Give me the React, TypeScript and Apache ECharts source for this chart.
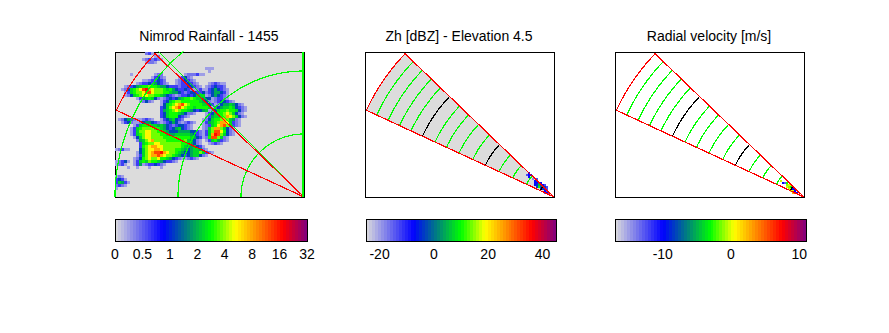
import React, { useEffect, useRef } from "react";
import * as echarts from "echarts";

const titles = ["Nimrod Rainfall - 1455", "Zh [dBZ] - Elevation 4.5", "Radial velocity [m/s]"];
const titleCentres = [209, 459, 709];
const rainTickLabels = ["0", "0.5", "1", "2", "4", "8", "16", "32"];
const rainTicks = [0, 1, 2, 3, 4, 5, 6, 7];
const zhTicks = [-20, 0, 20, 40];
const velTicks = [-10, 0, 10];

const ringKm = [50, 100, 150];
const heightGreenKm = [24, 36, 48, 71, 83, 94, 104, 125, 135, 145, 155];
const heightBlackKm = [12, 60, 115];
const sectorAz = [294.8, 313.9];
const sectorRangeKm = 164;
const greenRadialAz = 315;

// mm/h for each letter of the rain map
const rainLevels: Record<string, number> = { a: 0.25, b: 0.42, c: 0.62, d: 1.2, e: 1.9, f: 2.4, g: 3.0, h: 3.8, i: 5.2, j: 8, k: 12, l: 17 };
const zhLevels: Record<string, number> = { a: -18, b: -13, c: -8, d: -4, e: 0, f: 5, g: 10 };
const velLevels: Record<string, number> = { a: -13, c: -10, g: -3, h: -1, i: 0, j: 3, k: 6 };

// "column:letters" runs, one string for each row of the map, top row first
const rainRows = [
  "10:bca",
  "13:ab",
  "9:abcbcb 15:a",
  "10:abba",
  "",
  "30:aaa",
  "31:a",
  "5:a 13:abb 23:abb 26:bcaa",
  "12:acdba 21:acdba",
  "9:aabccdcb 20:abcdcba",
  "7:abccdcedcba 20:abccdcba 31:abcbaa",
  "3:abcdefgghggfeedcccbccddcba 30:abcdccb",
  "2:abdfghikljihhhgfgedccdcbcba 26:abca 30:acdedcba",
  "3:acfghhikkihhhggfeedcbcddccdeecb 30:bcdeedca",
  "3:abdfghiihhggfedcba 20:abccdcdfffdcca 30:abdedcba",
  "7:acefgfdba 15:abcdcdefgghgffeddcba 32:abcca 36:ba",
  "8:abdba 15:acdfghhggggggfedba 32:abcddcba",
  "15:adfghijkihggggffdca 33:abdeefedba",
  "15:cdfhijkihggfggggfea 32:acdeffgfdcba",
  "15:cefghihggfedcdefea 31:abdfgghggfdba",
  "15:cdfgggfedb 24:bba 30:acdfgghihfdba",
  "15:cdfgggdcba 30:aceffghjihfdba",
  "1:abdecba 8:abcba 15:acdefdcb 29:abdfgghjhfeba",
  "2:acdba 7:abdeedcba 15:abcdedba 22:abcba 29:acefghjjifcba",
  "6:acfgggffefedcbcddcba 29:abcfgijkhfcba",
  "5:acfghhhhggfedcdefdcba 29:abfhjjhfdba",
  "5:acfhhiihhggfedddeeeeddcba 29:acfhkkigdba",
  "5:acfghiihhhggfeefffffedcba 29:acfjlkhfdba",
  "6:adfhiihhhhgggggggggfedcb 29:abgkkhfba",
  "7:befhijhhhhgggggghfedba 30:acfgecba",
  "8:cfghhiihhhhhhhggfedba 31:abcba",
  "8:cghijjiihhhhhhgfeefdca",
  "0:abca 4:a 8:dfhiijjihhhhggfedeffeba",
  "7:adfhijkkljihhgfeddeffhfcba",
  "7:acfhijjkjihhgfedcdeffdba",
  "6:abdghihhiggfedcba 23:abcba",
  "0:abcda 6:acfgfhggfedccba",
  "0:abca 6:acea 10:bccdcba 16:a",
  "4:a 7:a 11:a 15:a",
  "",
  "",
  "0:aba",
  "0:cdca",
  "0:cfeca",
  "0:bcba",
  "0:a",
];
const zhRows = ["2:c", "1:bcc", "2:c", "4:a 6:b", "5:cd", "5:ccfc", "5:cdfecb", "6:dgecdb", "8:cdcb", "10:cb", "10:bcb"];
const velRows = ["", "", "", "", "3:i", "4:ca 6:g", "6:hii", "6:ihgc", "7:iicc", "8:iic", "9:jkc"];

const cmapPos = [0, 0.25, 0.5, 0.625, 0.875, 1];
const cmapRgb = [[220, 220, 220], [0, 0, 255], [0, 255, 0], [255, 255, 0], [255, 0, 0], [128, 0, 128]];
const cmapSteps = 64;

function colormap(p: number) {
  const lvl = Math.max(0, Math.min(cmapSteps - 1, Math.floor(p * cmapSteps)));
  const t = (lvl + 0.5) / cmapSteps;
  let i = 0;
  while (i < cmapPos.length - 2 && t > cmapPos[i + 1]) i++;
  const f = (t - cmapPos[i]) / (cmapPos[i + 1] - cmapPos[i]);
  const c = cmapRgb[i].map((v, k) => Math.round(v + (cmapRgb[i + 1][k] - v) * f));
  return `rgb(${c[0]},${c[1]},${c[2]})`;
}
const rainPos = (v: number) => (v < 0.5 ? v / 0.5 / 7 : (Math.log2(v) + 2) / 7);
const zhPos = (v: number) => (v + 25) / 70;
const velPos = (v: number) => (v + 17) / 28;

const KM_PX = 1.26;
const X_RANGE = 150;
const Y_RANGE = 145 / KM_PX;
const FONT = "'Liberation Sans', Arial, sans-serif";
const LINE_W = 1.2;

const polar = (az: number, r: number) => [r * Math.sin((az * Math.PI) / 180), r * Math.cos((az * Math.PI) / 180)];
function arc(r: number, a0: number, a1: number) {
  const pts: number[][] = [];
  const n = Math.ceil(Math.abs(a1 - a0));
  for (let i = 0; i <= n * 2; i++) pts.push(polar(a0 + ((a1 - a0) * i) / (n * 2), r));
  return pts;
}
const sectorOutline = [[0, 0], ...arc(sectorRangeKm, sectorAz[0], sectorAz[1]), [0, 0]];

function rowsToCells(rows: string[], levels: Record<string, number>) {
  const out: number[][] = [];
  rows.forEach((row, r) => {
    row.split(" ").filter(Boolean).forEach((run) => {
      const [col, letters] = run.split(":");
      [...letters].forEach((ch, i) => {
        if (levels[ch] !== undefined) out.push([Number(col) + i, r, levels[ch]]);
      });
    });
  });
  return out;
}

function cellSeries(axis: number, cells: number[][], pos: (v: number) => number, x0: number, yTop: number, cell: number) {
  return {
    type: "custom",
    xAxisIndex: axis,
    yAxisIndex: axis,
    silent: true,
    data: cells,
    renderItem: (_p: any, api: any) => {
      const c = api.value(0);
      const r = api.value(1);
      const a = api.coord([x0 + c * cell, yTop - r * cell]);
      const b = api.coord([x0 + (c + 1) * cell, yTop - (r + 1) * cell]);
      return {
        type: "rect",
        shape: { x: Math.round(a[0]), y: Math.round(a[1]), width: Math.round(b[0]) - Math.round(a[0]), height: Math.round(b[1]) - Math.round(a[1]) },
        style: { fill: colormap(pos(api.value(2))) },
      };
    },
  };
}

function lineSeries(axis: number, pts: number[][], color: string, width = LINE_W, clip = true) {
  return {
    type: "line",
    xAxisIndex: axis,
    yAxisIndex: axis,
    data: pts,
    showSymbol: false,
    silent: true,
    clip,
    lineStyle: { color, width },
  };
}

function barSeries(axis: number, min: number, max: number) {
  const levels = Array.from({ length: cmapSteps }, (_, i) => [i]);
  return {
    type: "custom",
    xAxisIndex: axis,
    yAxisIndex: axis,
    silent: true,
    data: levels,
    renderItem: (_p: any, api: any) => {
      const i = api.value(0);
      const a = api.coord([min + ((max - min) * i) / cmapSteps, 1]);
      const b = api.coord([min + ((max - min) * (i + 1)) / cmapSteps, 0]);
      return {
        type: "rect",
        shape: { x: Math.round(a[0]), y: a[1], width: Math.round(b[0]) - Math.round(a[0]), height: b[1] - a[1] },
        style: { fill: colormap(i / cmapSteps) },
      };
    },
  };
}

const plotLeft = [115, 365, 615];
const barLeft = [115, 366, 615];
const barWidth = [192, 190, 191];
const barRanges = [[0, 7], [-25, 45], [-17, 11]];
const barTickValues = [rainTicks, zhTicks, velTicks];

function buildOption() {
  const grid: any[] = [];
  const xAxis: any[] = [];
  const yAxis: any[] = [];
  plotLeft.forEach((left, i) => {
    grid.push({
      left, top: 52, width: 189, height: 145, show: true,
      borderColor: "#000", borderWidth: 1,
      backgroundColor: i === 0 ? "#dcdcdc" : "#fff",
    });
    xAxis.push({ type: "value", gridIndex: i, min: -X_RANGE, max: 0, show: false });
    yAxis.push({ type: "value", gridIndex: i, min: 0, max: Y_RANGE, show: false });
  });
  barLeft.forEach((left, i) => {
    grid.push({ left, top: 219, width: barWidth[i], height: 22, show: true, borderColor: "#000", borderWidth: 1, z: 5 });
    yAxis.push({ type: "value", gridIndex: i + 3, min: 0, max: 1, show: false });
  });
  barLeft.forEach((_, i) => {
    const [min, max] = barRanges[i];
    const ticks = barTickValues[i];
    xAxis.push({
      type: "value", gridIndex: i + 3, min, max, position: "bottom",
      splitLine: { show: false },
      axisLine: { show: false },
      axisTick: { show: true, inside: true, length: 2, customValues: ticks, lineStyle: { color: "#000" } },
      axisLabel: {
        show: true, customValues: ticks, margin: 6, fontSize: 14, color: "#000", fontFamily: FONT,
        formatter: (v: number) => (i === 0 ? rainTickLabels[v] : String(v)),
      },
    });
  });
  const topAxisIdx: number[] = [];
  barLeft.forEach((_, i) => {
    const [min, max] = barRanges[i];
    topAxisIdx.push(xAxis.length);
    xAxis.push({
      type: "value", gridIndex: i + 3, min, max, position: "top",
      splitLine: { show: false },
      axisLine: { show: false },
      axisLabel: { show: false },
      axisTick: { show: true, inside: true, length: 2, customValues: barTickValues[i], lineStyle: { color: "#000" } },
    });
  });

  const series: any[] = [];
  // Panel 1
  const cell = 3 / KM_PX;
  series.push(cellSeries(0, rowsToCells(rainRows, rainLevels), rainPos, -X_RANGE, Y_RANGE, cell));
  ringKm.forEach((r) => series.push(lineSeries(0, arc(r, 270, 360), "#00ff00")));
  series.push(lineSeries(0, [[0, 0], polar(greenRadialAz, 200)], "#00ff00"));
  series.push(lineSeries(0, sectorOutline, "#ff0000"));
  series.push(lineSeries(0, [[-0.6, 0], [-0.6, Y_RANGE]], "#00ff00", 2, false));

  // Panels 2 and 3
  const small = 2 / KM_PX;
  const px0 = -30 / KM_PX;
  const pyTop = 25 / KM_PX;
  [1, 2].forEach((ax) => {
    if (ax === 1) {
      series.push({
        type: "custom", xAxisIndex: 1, yAxisIndex: 1, silent: true, data: sectorOutline,
        renderItem: (p: any, api: any) =>
          p.dataIndex === 0
            ? { type: "polygon", shape: { points: sectorOutline.map((pt) => api.coord(pt)) }, style: { fill: "#dcdcdc" } }
            : null,
      });
    }
    heightGreenKm.forEach((r) => series.push(lineSeries(ax, arc(r, sectorAz[0], sectorAz[1]), "#00ff00")));
    if (ax === 1) series.push(cellSeries(1, rowsToCells(zhRows, zhLevels), zhPos, px0, pyTop, small));
    else series.push(cellSeries(2, rowsToCells(velRows, velLevels), velPos, px0, pyTop, small));
    heightBlackKm.forEach((r) => series.push(lineSeries(ax, arc(r, sectorAz[0], sectorAz[1]), "#000000")));
    series.push(lineSeries(ax, sectorOutline, "#ff0000"));
  });

  // Colour bars
  barLeft.forEach((_, i) => {
    series.push(barSeries(i + 3, barRanges[i][0], barRanges[i][1]));
    // top axis carries no data; an empty series keeps it in the coordinate system
    series.push({ type: "line", xAxisIndex: topAxisIdx[i], yAxisIndex: i + 3, data: [], silent: true });
  });

  return {
    animation: false,
    backgroundColor: "#fff",
    graphic: titles.map((text, i) => ({
      type: "text",
      x: titleCentres[i],
      y: 36,
      style: { text, fontSize: 14, fontFamily: FONT, fill: "#000", textAlign: "center", textVerticalAlign: "middle" },
    })),
    grid,
    xAxis,
    yAxis,
    series,
  };
}

export default function App() {
  const ref = useRef<HTMLDivElement>(null);
  useEffect(() => {
    document.body.style.margin = "0";
    const chart = echarts.init(ref.current!, undefined, { renderer: "svg" });
    chart.setOption(buildOption() as any);
    return () => chart.dispose();
  }, []);
  return (
    <>
      <style>{`svg path{shape-rendering:crispEdges}`}</style>
      <div ref={ref} style={{ width: 889, height: 333, position: "absolute", left: 0, top: 0 }} />
    </>
  );
}
